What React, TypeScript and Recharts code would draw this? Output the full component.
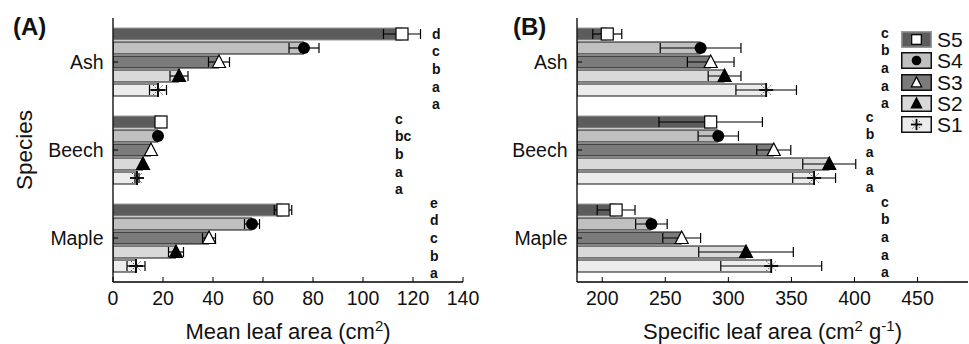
import React from 'react';
import { BarChart, Bar, XAxis, YAxis, ErrorBar, LabelList, Legend } from 'recharts';

const SPECIES = ['Ash', 'Beech', 'Maple'];
const SERIES = ['S5', 'S4', 'S3', 'S2', 'S1'];

// (A) mean leaf area, cm2 — Ash / Beech / Maple
const areaS5 = [115.6, 19.2, 68.0];
const areaS4 = [76.4, 18.0, 55.6];
const areaS3 = [42.4, 15.2, 38.4];
const areaS2 = [26.4, 12.0, 25.2];
const areaS1 = [18.0, 9.6, 9.2];
const areaErrS5 = [7.4, 0.4, 3.5];
const areaErrS4 = [6.0, 0.4, 3.0];
const areaErrS3 = [4.2, 0.4, 2.6];
const areaErrS2 = [3.6, 0.4, 3.0];
const areaErrS1 = [3.4, 0.8, 3.6];
const areaLetS5 = ['d', 'c', 'e'];
const areaLetS4 = ['c', 'bc', 'd'];
const areaLetS3 = ['b', 'b', 'c'];
const areaLetS2 = ['a', 'a', 'b'];
const areaLetS1 = ['a', 'a', 'a'];
const areaTicks = [0, 20, 40, 60, 80, 100, 120, 140];

// (B) specific leaf area, cm2 g-1
const slaS5 = [204, 286, 211];
const slaS4 = [278, 292, 239];
const slaS3 = [286, 336, 263];
const slaS2 = [297, 380, 314];
const slaS1 = [330, 368, 334];
const slaErrS5 = [11.5, 41, 15];
const slaErrS4 = [32, 16, 12.5];
const slaErrS3 = [18.5, 13.5, 15];
const slaErrS2 = [13, 21, 37.5];
const slaErrS1 = [24, 17, 40];
const slaLetS5 = ['c', 'c', 'c'];
const slaLetS4 = ['b', 'b', 'b'];
const slaLetS3 = ['a', 'a', 'a'];
const slaLetS2 = ['a', 'a', 'a'];
const slaLetS1 = ['a', 'a', 'a'];
const slaTicks = [200, 250, 300, 350, 400, 450];

const FONT = '"Liberation Sans", Arial, Helvetica, sans-serif';

const STYLE: Record<string, { fill: string; stroke: string; marker: string }> = {
  S5: { fill: '#5c5c5c', stroke: '#9a9a9a', marker: 'square' },
  S4: { fill: '#c0c0c0', stroke: '#111', marker: 'circle' },
  S3: { fill: '#7b7b7b', stroke: '#111', marker: 'triOpen' },
  S2: { fill: '#d9d9d9', stroke: '#111', marker: 'triFilled' },
  S1: { fill: '#ececec', stroke: '#111', marker: 'star' },
};

function Glyph({ kind, cx, cy, s = 1 }: { kind: string; cx: number; cy: number; s?: number }) {
  if (kind === 'square') return <rect x={cx - 6 * s} y={cy - 6 * s} width={12 * s} height={12 * s} fill="#fff" stroke="#000" strokeWidth={1.2} />;
  if (kind === 'circle') return <circle cx={cx} cy={cy} r={6 * s} fill="#000" />;
  if (kind === 'triOpen' || kind === 'triFilled') {
    const pts = `${cx},${cy - 7 * s} ${cx - 6.5 * s},${cy + 5.5 * s} ${cx + 6.5 * s},${cy + 5.5 * s}`;
    return <polygon points={pts} fill={kind === 'triOpen' ? '#fff' : '#000'} stroke="#000" strokeWidth={1.2} />;
  }
  const r = 7 * s;
  const d = 5 * s;
  return (
    <g>
      <line x1={cx} y1={cy - r} x2={cx} y2={cy + r} stroke="#000" strokeWidth={1.8} />
      <line x1={cx - r} y1={cy} x2={cx + r} y2={cy} stroke="#000" strokeWidth={1.8} />
      <line x1={cx - d} y1={cy - d} x2={cx + d} y2={cy + d} stroke="#333" strokeWidth={0.9} strokeDasharray="1.5 1.5" />
      <line x1={cx - d} y1={cy + d} x2={cx + d} y2={cy - d} stroke="#333" strokeWidth={0.9} strokeDasharray="1.5 1.5" />
    </g>
  );
}

function legendContent({ payload }: any) {
  const items = [...(payload ?? [])].sort((a: any, b: any) => SERIES.indexOf(a.value) - SERIES.indexOf(b.value));
  return (
    <div style={{ fontFamily: FONT }}>
      {items.map((p: any) => {
        const st = STYLE[p.value];
        return (
          <div key={p.value} style={{ display: 'flex', alignItems: 'center', height: 21.3 }}>
            <svg width={31} height={17} style={{ display: 'block' }}>
              <rect x={0.75} y={0.75} width={29.5} height={15.5} fill={st.fill} stroke={st.stroke} strokeWidth={1.5} />
              <Glyph kind={st.marker} cx={15.5} cy={8.5} s={0.8} />
            </svg>
            <span style={{ display: 'block', fontSize: 21, marginLeft: 5, color: '#111', lineHeight: '19px', height: 19 }}>{p.value}</span>
          </div>
        );
      })}
    </div>
  );
}

interface PanelProps {
  means: number[][];
  errs: number[][];
  letters: string[][];
  letterX: number[];
  letterShift: number[];
  domain: [number, number];
  ticks: number[];
  width: number;
  yWidth: number;
  right: number;
  title: React.ReactNode;
  species?: boolean;
  legend?: boolean;
}

function Panel(p: PanelProps) {
  const base = p.domain[0];
  const rows = SPECIES.map((sp, i) => {
    const r: Record<string, any> = { sp };
    SERIES.forEach((k, j) => {
      r[k] = p.means[j][i];
      r[k + 'e'] = p.errs[j][i];
    });
    return r;
  });
  const axisLine = { stroke: '#000', strokeWidth: 1.3 };
  const tickLine = { stroke: '#000', strokeWidth: 1 };
  const tick = { fontSize: 19.5, fill: '#111' };

  const markerContent = (kind: string) => (props: any) => {
    const vb = props.viewBox ?? props;
    if (vb == null || vb.x == null) return null;
    return <Glyph kind={kind} cx={vb.x + vb.width} cy={vb.y + vb.height / 2} />;
  };
  const letterContent = (j: number) => (props: any) => {
    const vb = props.viewBox ?? props;
    const idx = props.index ?? 0;
    if (vb == null || vb.x == null) return null;
    const v = p.means[j][idx];
    const perUnit = vb.width / (v - base);
    const lx = vb.x + (p.letterX[idx] - base) * perUnit;
    const ly = vb.y + vb.height / 2 + (j - 2) * 3.6 + p.letterShift[idx];
    return (
      <text x={lx} y={ly} fontSize={14} fontWeight="bold" fill="#111" dominantBaseline="central">
        {p.letters[j][idx]}
      </text>
    );
  };

  return (
    <BarChart
      width={p.width}
      height={344}
      data={rows}
      layout="vertical"
      barSize={12}
      barGap={2}
      margin={{ top: 18, right: p.right, bottom: 0, left: 0 }}
    >
      <XAxis
        type="number"
        domain={p.domain}
        ticks={p.ticks}
        interval={0}
        allowDataOverflow
        height={62}
        axisLine={axisLine}
        tickLine={tickLine}
        tickSize={-5}
        tickMargin={14.5}
        tick={tick}
        label={{
          content: (lp: any) => {
            const vb = lp.viewBox;
            return (
              <text x={vb.x + vb.width / 2} y={vb.y + 56.5} textAnchor="middle" fontSize={22} fill="#111">
                {p.title}
              </text>
            );
          },
        }}
      />
      <XAxis
        xAxisId="top"
        orientation="top"
        type="number"
        domain={p.domain}
        ticks={p.ticks}
        interval={0}
        allowDataOverflow
        height={0}
        axisLine={axisLine}
        tickLine={tickLine}
        tickSize={-5}
        tickFormatter={() => ''}
      />
      <YAxis
        type="category"
        dataKey="sp"
        width={p.yWidth}
        axisLine={axisLine}
        tickLine={tickLine}
        tickSize={-5}
        tickMargin={14.5}
        tick={tick}
        label={
          p.species
            ? {
                content: (lp: any) => {
                  const vb = lp.viewBox;
                  const cx = vb.x + 24;
                  const cy = vb.y + vb.height / 2;
                  return (
                    <text x={cx} y={cy} transform={`rotate(-90 ${cx} ${cy})`} textAnchor="middle" dominantBaseline="central" fontSize={22.5} fill="#111">
                      Species
                    </text>
                  );
                },
              }
            : undefined
        }
      />
      <YAxis
        yAxisId="r"
        orientation="right"
        type="category"
        dataKey="sp"
        width={0}
        axisLine={axisLine}
        tickLine={tickLine}
        tickSize={-5}
        tickFormatter={() => ''}
      />
      {p.legend && (
        <Legend
          layout="vertical"
          align="center"
          verticalAlign="middle"
          wrapperStyle={{ left: 421, top: 29, width: 'auto' }}
          content={legendContent}
        />
      )}
      {SERIES.map((k, j) => (
        <Bar
          key={k}
          dataKey={k}
          name={k}
          fill={STYLE[k].fill}
          stroke={STYLE[k].stroke}
          strokeWidth={1}
          isAnimationActive={false}
        >
          <ErrorBar dataKey={k + 'e'} direction="x" width={5} stroke="#000" strokeWidth={1.2} />
          <LabelList content={markerContent(STYLE[k].marker)} />
          <LabelList content={letterContent(j)} />
        </Bar>
      ))}
    </BarChart>
  );
}

export default function App() {
  return (
    <div style={{ position: 'absolute', left: 0, top: 0, width: 969, height: 344, fontFamily: FONT, background: '#fff' }}>
      <div style={{ position: 'absolute', left: 0, top: 0 }}>
        <Panel
          means={[areaS5, areaS4, areaS3, areaS2, areaS1]}
          errs={[areaErrS5, areaErrS4, areaErrS3, areaErrS2, areaErrS1]}
          letters={[areaLetS5, areaLetS4, areaLetS3, areaLetS2, areaLetS1]}
          letterX={[127.6, 112.8, 126.8]}
          letterShift={[7, 4, 0]}
          domain={[0, 140]}
          ticks={areaTicks}
          width={480}
          yWidth={113}
          right={17}
          species
          title={
            <>
              Mean leaf area (cm<tspan dy={-8} fontSize={15}>2</tspan>
              <tspan dy={8}>)</tspan>
            </>
          }
        />
      </div>
      <div style={{ position: 'absolute', left: 480, top: 0 }}>
        <Panel
          means={[slaS5, slaS4, slaS3, slaS2, slaS1]}
          errs={[slaErrS5, slaErrS4, slaErrS3, slaErrS2, slaErrS1]}
          letters={[slaLetS5, slaLetS4, slaLetS3, slaLetS2, slaLetS1]}
          letterX={[421, 409, 421]}
          letterShift={[6, 2, -1]}
          domain={[180, 490]}
          ticks={slaTicks}
          width={489}
          yWidth={97}
          right={1}
          legend
          title={
            <>
              Specific leaf area (cm<tspan dy={-8} fontSize={15}>2</tspan>
              <tspan dy={8}> g</tspan>
              <tspan dy={-8} fontSize={15}>-1</tspan>
              <tspan dy={8}>)</tspan>
            </>
          }
        />
      </div>
      <div style={{ position: 'absolute', left: 13, top: 15, fontSize: 24, fontWeight: 'bold', lineHeight: '24px', color: '#111' }}>(A)</div>
      <div style={{ position: 'absolute', left: 513, top: 15, fontSize: 24, fontWeight: 'bold', lineHeight: '24px', color: '#111' }}>(B)</div>
    </div>
  );
}
